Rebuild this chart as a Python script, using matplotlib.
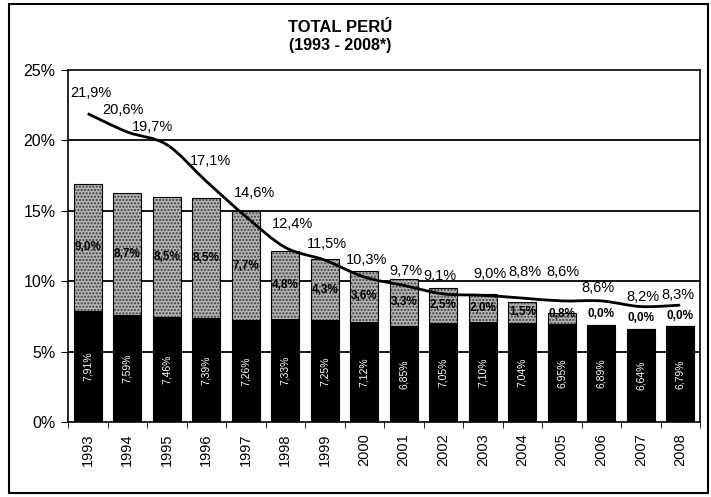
import numpy as np
import matplotlib
matplotlib.use("Agg")
import matplotlib.pyplot as plt
from matplotlib.path import Path
from matplotlib.patches import PathPatch, Rectangle

plt.rcParams['font.family'] = ['Liberation Sans', 'DejaVu Sans']

# datos
years = ['1993', '1994', '1995', '1996', '1997', '1998', '1999', '2000',
         '2001', '2002', '2003', '2004', '2005', '2006', '2007', '2008']
base = [7.91, 7.59, 7.46, 7.39, 7.26, 7.33, 7.25, 7.12,
        6.85, 7.05, 7.10, 7.04, 6.95, 6.89, 6.64, 6.79]
extra = [9.0, 8.7, 8.5, 8.5, 7.7, 4.8, 4.3, 3.6,
         3.3, 2.5, 2.0, 1.5, 0.8, 0.0, 0.0, 0.0]
total = [21.9, 20.6, 19.7, 17.1, 14.6, 12.4, 11.5, 10.3,
         9.7, 9.1, 9.0, 8.8, 8.6, 8.6, 8.2, 8.3]

# desplazamiento de las etiquetas de la linea (pixeles)
lbl_dx = [3, -4, -14, 4, 9, 7, 2, 2, 2, -3, 7, 3, 1, -3, 2, -2]
lbl_dy = [21, 22, 18, 20, 23, 23, 16, 17, 14, 18, 21, 26, 29, 13, 10, 10]

def pct(v, nd=1):
    return ('%.*f%%' % (nd, v)).replace('.', ',')

fig = plt.figure(figsize=(7.11, 4.97), dpi=100)
ax = fig.add_axes([68 / 711, 75 / 497, 632 / 711, 352 / 497])

x = np.arange(len(years))
w = 0.71

# barras
ax.bar(x, base, width=w, color='black', edgecolor='black', linewidth=0.8, zorder=3)
ax.bar(x, extra, bottom=base, width=w, color='#b4b4b4', edgecolor='#3a3a3a',
       hatch='.....', linewidth=0, zorder=3)
ax.bar(x, extra, bottom=base, width=w, fill=False, edgecolor='black',
       linewidth=0.8, zorder=4)

for i in range(len(years)):
    ax.text(x[i], base[i] / 2, pct(base[i], 2), rotation=90, color='white',
            ha='center', va='center', fontsize=7.5, zorder=5)
    yy = base[i] + max(extra[i] / 2, 0.75)
    ax.text(x[i], yy, pct(extra[i]), color='black', ha='center', va='center',
            fontsize=8.5, fontweight='bold', zorder=5)

# linea suavizada
pts = np.column_stack([x, total]).astype(float)
verts = [pts[0]]
codes = [Path.MOVETO]
n = len(pts)
for i in range(n - 1):
    p0 = pts[max(i - 1, 0)]
    p1 = pts[i]
    p2 = pts[i + 1]
    p3 = pts[min(i + 2, n - 1)]
    c1 = p1 + (p2 - p0) / 6
    c2 = p2 - (p3 - p1) / 6
    verts += [c1, c2, p2]
    codes += [Path.CURVE4] * 3
ax.add_patch(PathPatch(Path(verts, codes), fill=False, edgecolor='black',
                       linewidth=2, zorder=6))

for i in range(n):
    ax.annotate(pct(total[i]), (x[i], total[i]), xytext=(lbl_dx[i], lbl_dy[i]),
                textcoords='offset pixels', ha='center', va='center',
                fontsize=10.5, zorder=7)

# ejes
ax.set_xlim(-0.5, 15.5)
ax.set_ylim(0, 25)
ax.set_yticks([0, 5, 10, 15, 20, 25])
ax.set_yticklabels(['0%', '5%', '10%', '15%', '20%', '25%'], fontsize=11.5)
for g in [5, 10, 15, 20]:
    ax.axhline(g, color='black', linewidth=1.3, zorder=2)
ax.set_xticks(x)
ax.set_xticklabels(years, rotation=90, fontsize=10.5)
ax.set_xticks(np.arange(-0.5, 16, 1), minor=True)
ax.tick_params(axis='x', which='major', length=0, pad=8)
ax.tick_params(axis='x', which='minor', length=4, direction='out')
ax.tick_params(axis='y', length=5, direction='out', pad=4)
ax.spines['top'].set_linewidth(1.2)
ax.spines['top'].set_linestyle((0, (6, 1)))
ax.spines['right'].set_linestyle((0, (2, 1)))
ax.spines['right'].set_linewidth(1.2)
ax.spines['left'].set_linewidth(1.2)
ax.spines['bottom'].set_linewidth(1.2)

fig.text(0.478, 1 - 28 / 497, 'TOTAL PERÚ', ha='center', va='center',
         fontsize=12, fontweight='bold')
fig.text(0.478, 1 - 46 / 497, '(1993 - 2008*)', ha='center', va='center',
         fontsize=11.5, fontweight='bold')

# marco exterior
fig.patches.append(Rectangle((9 / 711, 4 / 497), 699 / 711, 489 / 497,
                             transform=fig.transFigure, fill=False,
                             edgecolor='black', linewidth=1.5))

plt.savefig('out.png', dpi=100)
